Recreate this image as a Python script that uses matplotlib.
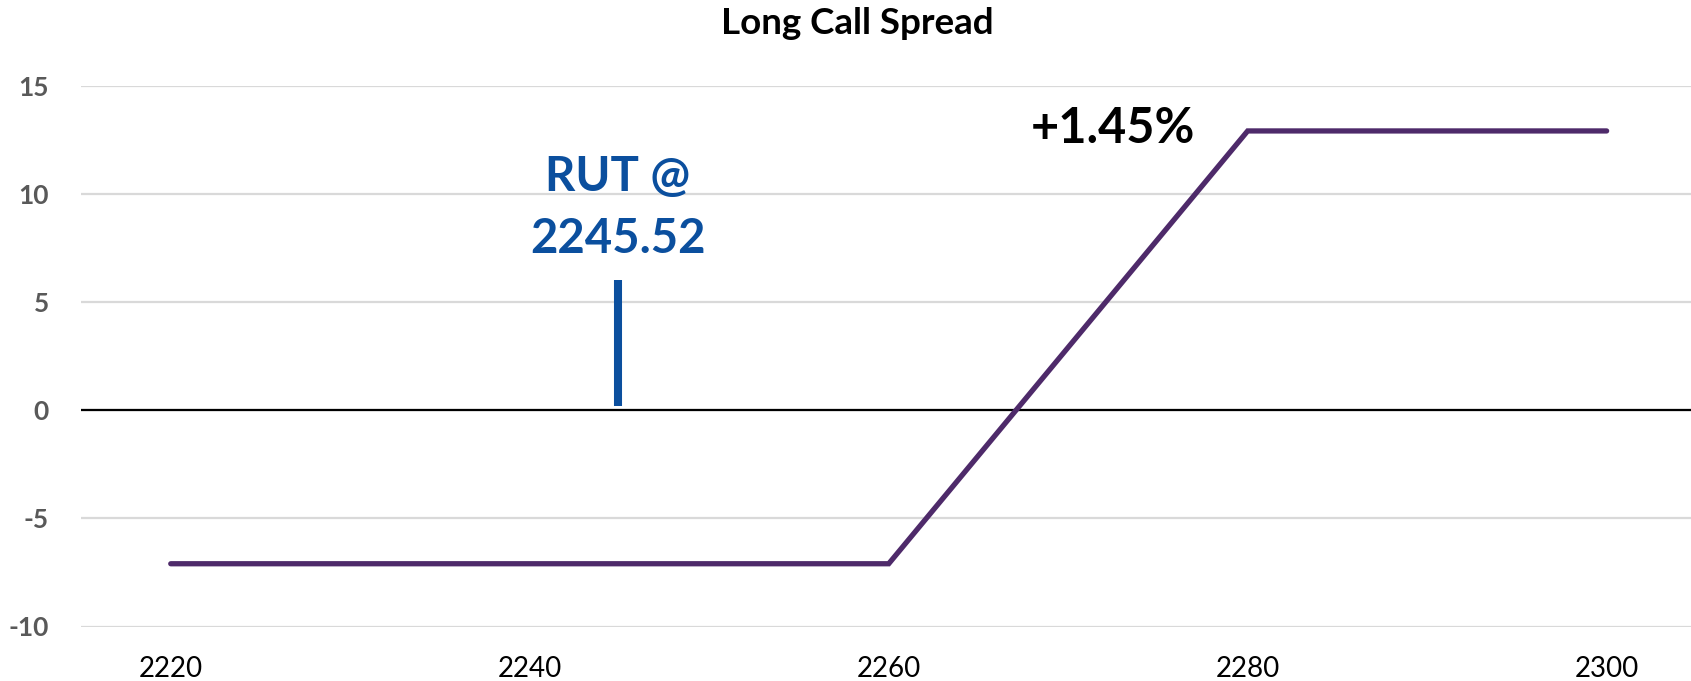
import matplotlib
matplotlib.use("Agg")
import matplotlib.pyplot as plt

# Data
strikes = [2220, 2260, 2280, 2300]
payoff = [-7.1, -7.1, 12.9, 12.9]
rut_line_x = 2244.9
rut_marker = [0.2, 6.0]
x_ticks = [2220, 2240, 2260, 2280, 2300]
y_ticks = [-10, -5, 0, 5, 10, 15]
title = "Long Call Spread"
rut_label = "RUT @\n2245.52"
gain_label = "+1.45%"

plt.rcParams['font.family'] = ['Lato', 'DejaVu Sans']
plt.rcParams['axes.unicode_minus'] = False

W, H = 1691, 681
fig = plt.figure(figsize=(W / 100, H / 100), dpi=100)
left, right = 81 / W, 1.0
bottom, top = 1 - 626.5 / H, 1 - 85.5 / H
ax = fig.add_axes([left, bottom, right - left, top - bottom])

ax.set_xlim(2215, 2304.7)
ax.set_ylim(-10, 15)
ax.set_xticks(x_ticks)
ax.set_yticks(y_ticks)
for s in ax.spines.values():
    s.set_visible(False)
ax.tick_params(length=0)
ax.tick_params(axis='x', labelsize=20, labelcolor='black', pad=21)
ax.tick_params(axis='y', labelsize=19, labelcolor='#595959', pad=23)
for lab in ax.get_yticklabels():
    lab.set_fontweight('bold')

ax.grid(axis='y', color='#D9D9D9', linewidth=1.6, zorder=0)
ax.set_axisbelow(True)
ax.axhline(0, color='black', linewidth=1.6, zorder=1)

ax.plot(strikes, payoff, color='#4E2A6A', linewidth=3.8, solid_capstyle='round',
        solid_joinstyle='miter', zorder=3)
ax.plot([rut_line_x, rut_line_x], rut_marker, color='#0B4F9E', linewidth=5.8,
        solid_capstyle='butt', zorder=3)

ax.text(rut_line_x, 9.35, rut_label, color='#0B4F9E', fontsize=34, fontweight='bold',
        ha='center', va='center', linespacing=1.5)
ax.text(2272.5, 13.0, gain_label, color='black', fontsize=35, fontweight='bold',
        ha='center', va='center')

fig.text(857 / W, 1 - 24 / H, title, fontsize=26.5, fontweight='bold',
         ha='center', va='center')

fig.savefig('out.png', dpi=100, facecolor='white')
